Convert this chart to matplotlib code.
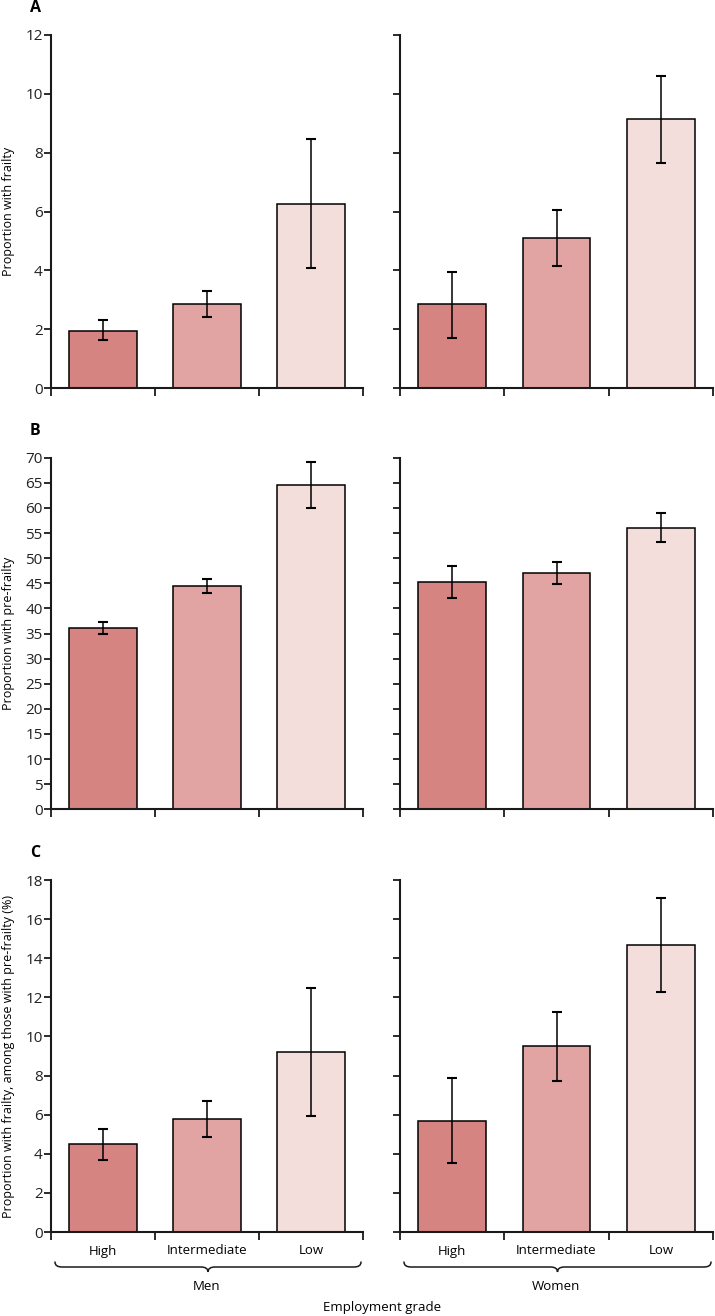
import matplotlib
matplotlib.use('Agg')
import matplotlib.pyplot as plt
from matplotlib.path import Path
from matplotlib.patches import PathPatch
import numpy as np

plt.rcParams['font.family'] = ['Open Sans', 'DejaVu Sans']

grades = ['High', 'Intermediate', 'Low']
sexes = ['Men', 'Women']
barColors = ['#d58481', '#e2a4a3', '#f4dedb']

# panel A - frailty
frailMen = [1.94, 2.87, 6.27]; frailMenLo = [1.63, 2.41, 4.08]; frailMenHi = [2.31, 3.30, 8.47]
frailWom = [2.85, 5.09, 9.15]; frailWomLo = [1.71, 4.16, 7.65]; frailWomHi = [3.96, 6.04, 10.60]
# panel B - pre-frailty
preMen = [36.0, 44.5, 64.6]; preMenLo = [34.9, 43.1, 60.0]; preMenHi = [37.3, 45.8, 69.1]
preWom = [45.2, 47.0, 56.1]; preWomLo = [42.1, 44.9, 53.2]; preWomHi = [48.4, 49.3, 58.9]
# panel C - frailty among pre-frail
condMen = [4.50, 5.77, 9.22]; condMenLo = [3.68, 4.85, 5.94]; condMenHi = [5.26, 6.71, 12.49]
condWom = [5.67, 9.51, 14.68]; condWomLo = [3.52, 7.72, 12.27]; condWomHi = [7.86, 11.26, 17.06]

panels = [
    ('A', 'Proportion with frailty', np.arange(0, 13, 2), 12,
     [(frailMen, frailMenLo, frailMenHi), (frailWom, frailWomLo, frailWomHi)]),
    ('B', 'Proportion with pre-frailty', np.arange(0, 71, 5), 70,
     [(preMen, preMenLo, preMenHi), (preWom, preWomLo, preWomHi)]),
    ('C', 'Proportion with frailty, among those with pre-frailty (%)', np.arange(0, 19, 2), 18,
     [(condMen, condMenLo, condMenHi), (condWom, condWomLo, condWomHi)]),
]

W, H = 715, 1316
fig = plt.figure(figsize=(W/100, H/100), dpi=100)
colX = [(51, 363), (400, 713)]
rowY = [(35, 388), (457.7, 809.3), (880, 1232)]
spineCol = '#1a1a1a'

def px(x0, y0, x1, y1):
    return [x0/W, 1-y1/H, (x1-x0)/W, (y1-y0)/H]

def brace(xa, xb, ytop):
    xm = (xa+xb)/2; ym = ytop+5; yt = ytop+10
    verts = [(xa, ytop), (xa, ym), (xa+7, ym), (xm-7, ym), (xm, ym), (xm, yt),
             (xm, ym), (xm+7, ym), (xb-7, ym), (xb, ym), (xb, ytop)]
    codes = [Path.MOVETO, Path.CURVE3, Path.CURVE3, Path.LINETO, Path.CURVE3, Path.CURVE3,
             Path.CURVE3, Path.CURVE3, Path.LINETO, Path.CURVE3, Path.CURVE3]
    verts = [(x/W, 1-y/H) for x, y in verts]
    fig.add_artist(PathPatch(Path(verts, codes), transform=fig.transFigure, fill=False,
                             lw=1.1, edgecolor=spineCol, capstyle='round'))

x = np.arange(3)
for r, (letter, ylab, yticks, ymax, series) in enumerate(panels):
    for c in range(2):
        vals, lo, hi = series[c]
        ax = fig.add_axes(px(colX[c][0], rowY[r][0], colX[c][1], rowY[r][1]))
        vals = np.array(vals); lo = np.array(lo); hi = np.array(hi)
        ax.bar(x, vals, width=0.65, color=barColors, edgecolor='black', linewidth=1.1, zorder=2)
        ax.errorbar(x, vals, yerr=[vals-lo, hi-vals], fmt='none', ecolor='black',
                    elinewidth=1.1, capsize=3.5, capthick=1.5, zorder=3)
        ax.set_xlim(-0.5, 2.5)
        ax.set_ylim(0, ymax)
        for s in ['top', 'right']:
            ax.spines[s].set_visible(False)
        for s in ['left', 'bottom']:
            ax.spines[s].set_linewidth(1.5); ax.spines[s].set_color(spineCol)
        ax.set_yticks(yticks)
        ax.tick_params(axis='y', direction='out', length=5, width=1.3, color=spineCol,
                       labelsize=11, pad=1, labelcolor='#222222')
        ax.set_xticks([-0.5, 0.5, 1.5, 2.5])
        ax.set_xticklabels([])
        ax.tick_params(axis='x', which='major', direction='out', length=6, width=1.3, color=spineCol)
        ax.set_xticks(x, minor=True)
        ax.tick_params(axis='x', which='minor', length=0, pad=9, labelsize=9.5)
        if r == 2:
            ax.set_xticklabels(grades, minor=True)
            brace(colX[c][0]+4, colX[c][1]-2, 1262)
            fig.text((colX[c][0]+colX[c][1])/2/W, 1-1287/H, sexes[c], ha='center', va='center', fontsize=9.5)
        if c == 0:
            ax.set_ylabel(ylab, fontsize=9, va='center')
            ax.yaxis.set_label_coords(-42/312, 0.5)
            fig.text(35/W, 1-(rowY[r][0]-27)/H, letter, ha='center', va='center',
                     fontsize=11.5, fontweight='bold')
        else:
            ax.set_yticklabels([])

fig.text(382/W, 1-1308/H, 'Employment grade', ha='center', va='center', fontsize=9.5)

fig.savefig('out.png', dpi=100)
